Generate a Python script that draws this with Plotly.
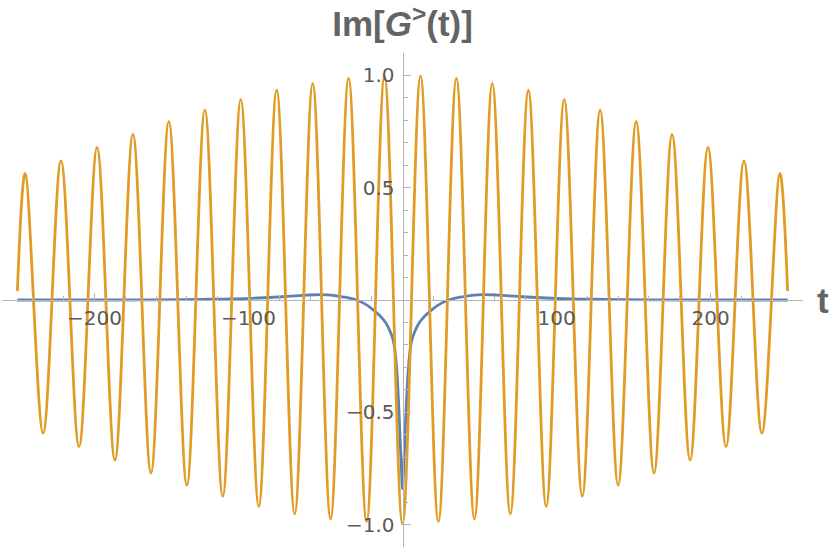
import plotly.graph_objects as go

# orange curve: extrema (t, value)
peak_t = [-245, -221.7, -198.3, -175, -151.7, -128.3, -105, -81.7, -58.3, -35, -11.7,
          11.7, 35, 58.3, 81.7, 105, 128.3, 151.7, 175, 198.3, 221.7, 245]
peak_v = [0.564, 0.620, 0.680, 0.737, 0.794, 0.846, 0.892, 0.934, 0.964, 0.987, 0.997,
          0.997, 0.987, 0.964, 0.934, 0.892, 0.846, 0.794, 0.737, 0.680, 0.620, 0.564]
trough_t = [-233.3, -210, -186.7, -163.3, -140, -116.7, -93.3, -70, -46.7, -23.3, 0,
            23.3, 46.7, 70, 93.3, 116.7, 140, 163.3, 186.7, 210, 233.3]
trough_v = [-0.593, -0.653, -0.713, -0.770, -0.825, -0.874, -0.919, -0.952, -0.975, -0.987, -0.997,
            -0.987, -0.975, -0.952, -0.919, -0.874, -0.825, -0.770, -0.713, -0.653, -0.593]
end_t = [-250, 250]
end_v = [0.04, 0.04]

# blue curve
blue_t = [-250, -200, -160, -130, -110, -90, -75, -62, -53, -45, -38, -30, -25, -20, -15, -11,
          -8, -6, -4.5, -3.2, -2.2, -1.3, -0.6, 0, 0.6, 1.3, 2.2, 3.2, 4.5, 6, 8,
          11, 15, 20, 25, 30, 38, 45, 53, 62, 75, 90, 110, 130, 160, 200, 250]
blue_v = [0, 0, 0.001, 0.003, 0.005, 0.01, 0.016, 0.022, 0.024, 0.021, 0.013, 0, -0.015, -0.038, -0.068, -0.1,
          -0.14, -0.18, -0.25, -0.37, -0.51, -0.66, -0.77, -0.84, -0.77, -0.66, -0.51, -0.37, -0.25, -0.18, -0.14,
          -0.1, -0.068, -0.038, -0.015, 0, 0.013, 0.021, 0.024, 0.022, 0.016, 0.01, 0.005, 0.003, 0.001, 0, 0]

x_ticks = [-200, -100, 100, 200]
x_ticktext = ["\u2212200", "\u2212100", "100", "200"]
y_ticks = [-1.0, -0.5, 0.5, 1.0]
y_ticktext = ["\u22121.0", "\u22120.5", "0.5", "1.0"]

orange = sorted(zip(peak_t + trough_t + end_t, peak_v + trough_v + end_v))
orange_t = [p[0] for p in orange]
orange_v = [p[1] for p in orange]

axis_col = "#b3b3b3"
tick_font = dict(family="DejaVu Sans", size=20, color="#5a5a5a")

fig = go.Figure()
fig.add_trace(go.Scatter(x=blue_t, y=blue_v, mode="lines", line_shape="spline",
                         line=dict(color="#5E81B5", width=2.8)))
fig.add_trace(go.Scatter(x=orange_t, y=orange_v, mode="lines", line_shape="spline",
                         line=dict(color="#E09C24", width=2.8)))

fig.update_layout(
    width=830, height=551,
    margin=dict(l=2, r=27, t=53, b=4),
    plot_bgcolor="white", paper_bgcolor="white",
    showlegend=False,
    title=dict(text="<b>Im[<i>G</i><sup>&gt;</sup>(t)]</b>",
               x=0.485, xanchor="center", y=1 - 24 / 551, yanchor="middle",
               font=dict(family="Liberation Sans", size=35, color="#646464")),
    xaxis=dict(range=[-260, 260], anchor="free", position=0.5,
               showline=True, linecolor=axis_col, linewidth=1,
               showgrid=False, zeroline=False,
               ticks="inside", ticklen=7, tickcolor=axis_col,
               tickvals=x_ticks, ticktext=x_ticktext, tickfont=tick_font,
               minor=dict(tickvals=[-260, -240, -220, -180, -160, -140, -120, -80, -60, -40, -20,
                                    20, 40, 60, 80, 120, 140, 160, 180, 220, 240, 260],
                          ticks="inside", ticklen=4, tickcolor=axis_col)),
    yaxis=dict(range=[-1.1, 1.1], anchor="free", position=0.5,
               showline=True, linecolor=axis_col, linewidth=1,
               showgrid=False, zeroline=False,
               ticks="inside", ticklen=7, tickcolor=axis_col,
               tickvals=y_ticks, ticktext=y_ticktext, tickfont=tick_font,
               ticklabelstandoff=4,
               minor=dict(tickvals=[-1.1, -0.9, -0.8, -0.7, -0.6, -0.4, -0.3, -0.2, -0.1,
                                    0.1, 0.2, 0.3, 0.4, 0.6, 0.7, 0.8, 0.9, 1.1],
                          ticks="inside", ticklen=4, tickcolor=axis_col)),
)

fig.add_annotation(text="<b>t</b>", x=1, xref="paper", y=0, yref="y",
                   xanchor="left", yanchor="middle", xshift=12, showarrow=False,
                   font=dict(family="Liberation Sans", size=35, color="#646464"))

# drop the page's default body margin so the figure sits at the window's corner
fig.write_html("out.html", config={"displayModeBar": False},
               post_script="document.body.style.margin='0';")
